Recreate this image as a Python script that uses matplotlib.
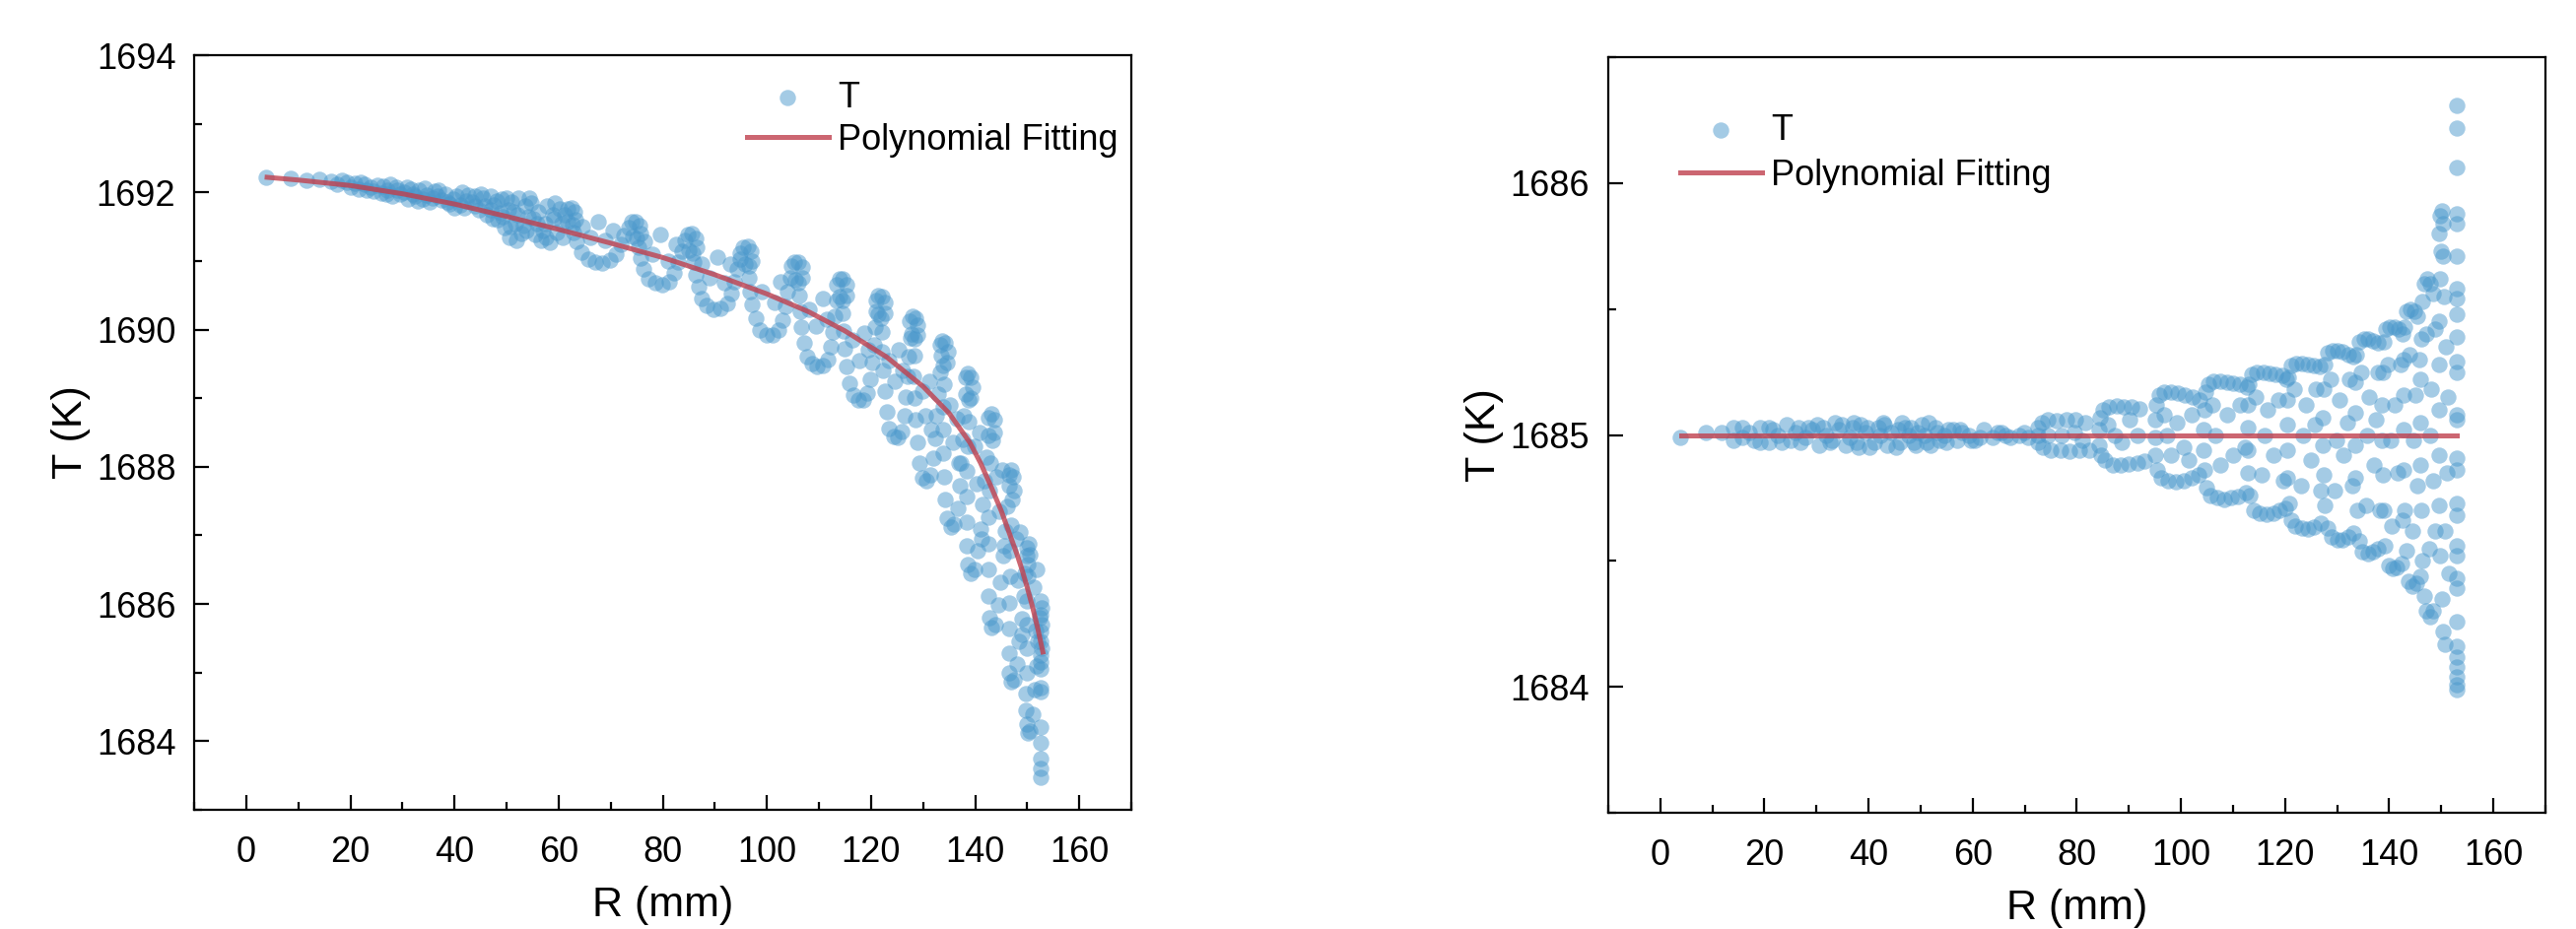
import numpy as np
import matplotlib.pyplot as plt
from matplotlib.ticker import MultipleLocator

plt.rcParams['font.family'] = ['Liberation Sans', 'DejaVu Sans']

# ---- left panel: T vs R (R mm, T K) ----
band_l = [
    (3.8, 1692.22), (8.6, 1692.20), (11.5, 1692.17), (14.0, 1692.19), (16.2, 1692.16),
    (17.5, 1692.12), (18.3, 1692.18), (19.4, 1692.15), (20.1, 1692.08), (20.9, 1692.13),
    (21.5, 1692.05), (22.0, 1692.15), (22.7, 1692.12), (23.2, 1692.03), (23.8, 1692.08),
    (24.5, 1692.02), (25.2, 1692.10), (25.9, 1691.99), (26.4, 1692.09), (26.9, 1691.98),
    (27.0, 1692.04), (27.7, 1692.12), (28.1, 1691.95), (28.8, 1692.08), (29.0, 1692.04),
    (29.5, 1691.97), (30.3, 1692.01), (30.9, 1692.08), (31.0, 1691.91), (31.7, 1692.05),
    (32.0, 1691.97), (32.4, 1691.94), (33.0, 1691.87), (33.2, 1692.03), (33.9, 1691.90),
    (34.2, 1692.06), (34.6, 1691.96), (35.3, 1691.86), (35.8, 1691.92), (36.1, 1692.02),
    (36.8, 1691.95), (37.0, 1692.04), (37.5, 1691.89), (38.2, 1691.98), (38.6, 1691.86),
    (39.0, 1691.83), (39.7, 1691.90), (40.0, 1691.78), (40.4, 1691.94), (41.1, 1691.82),
    (41.5, 1692.00), (41.8, 1691.77), (42.2, 1691.88), (42.6, 1691.96), (43.3, 1691.86),
    (43.9, 1691.80), (44.0, 1691.95), (44.7, 1691.75), (45.0, 1691.98), (45.5, 1691.92),
    (45.8, 1691.80), (46.2, 1691.68), (46.9, 1691.75), (47.0, 1691.95), (47.3, 1691.62),
    (47.6, 1691.82), (48.0, 1691.88), (48.3, 1691.60), (48.8, 1691.70), (49.0, 1691.90),
    (49.3, 1691.65), (49.6, 1691.48), (50.0, 1691.92), (50.3, 1691.75), (50.6, 1691.35),
    (50.8, 1691.50), (51.0, 1691.86), (51.3, 1691.72), (51.6, 1691.55), (51.8, 1691.30),
    (52.0, 1691.68), (52.3, 1691.92), (52.8, 1691.40), (53.2, 1691.52), (53.5, 1691.80),
    (53.8, 1691.45), (54.1, 1691.64), (54.4, 1691.92), (54.8, 1691.85), (55.0, 1691.62),
    (55.4, 1691.38), (55.8, 1691.55), (56.0, 1691.72), (56.7, 1691.30), (57.0, 1691.45),
    (57.3, 1691.55), (57.6, 1691.35), (57.8, 1691.80), (58.4, 1691.27), (58.8, 1691.68),
    (59.0, 1691.62), (59.3, 1691.85), (59.6, 1691.42), (60.2, 1691.76), (60.5, 1691.55),
    (60.8, 1691.35),
]

loops_l_mid = [
    # curl at R~62
    (61.1, 1691.68), (61.7, 1691.76), (62.4, 1691.77), (63.0, 1691.71), (63.2, 1691.60),
    (62.6, 1691.53), (61.8, 1691.57), (62.9, 1691.42), (63.4, 1691.28), (64.3, 1691.13),
    (65.6, 1691.03), (67.0, 1690.98), (68.4, 1690.97), (69.8, 1691.01), (71.0, 1691.10),
    (71.9, 1691.24), (72.6, 1691.37),
    # curl at R~74
    (73.4, 1691.48), (74.0, 1691.57), (74.8, 1691.58), (75.5, 1691.52), (75.7, 1691.40),
    (75.0, 1691.33), (74.2, 1691.36), (75.3, 1691.20), (75.7, 1691.04), (76.3, 1690.88),
    (77.2, 1690.74), (78.5, 1690.68), (79.9, 1690.66), (81.2, 1690.70), (82.2, 1690.82),
    (83.0, 1690.98), (83.6, 1691.14),
    # curl at R~85
    (84.2, 1691.30), (84.8, 1691.39), (85.6, 1691.40), (86.3, 1691.33), (86.5, 1691.20),
    (85.8, 1691.12), (85.0, 1691.15), (86.0, 1690.98), (86.3, 1690.80), (86.8, 1690.62),
    (87.5, 1690.46), (88.5, 1690.35), (89.8, 1690.30), (91.1, 1690.31), (92.3, 1690.38),
    (93.2, 1690.52), (93.8, 1690.70), (94.3, 1690.88), (94.8, 1691.03),
    # curl at R~96
    (94.9, 1691.12), (95.5, 1691.20), (96.3, 1691.21), (97.0, 1691.14), (97.2, 1691.00),
    (96.5, 1690.92), (95.7, 1690.95), (96.6, 1690.76), (96.8, 1690.56), (97.2, 1690.36),
    (97.8, 1690.16), (98.7, 1690.00), (99.9, 1689.92), (101.1, 1689.92), (102.2, 1689.99),
    (103.0, 1690.14), (103.5, 1690.34), (104.0, 1690.55), (104.5, 1690.75),
]

loops_l_out = [
    # curl at R~106
    (104.7, 1690.92), (105.3, 1690.99), (106.1, 1690.99), (106.7, 1690.91), (106.8, 1690.76),
    (106.1, 1690.68), (105.4, 1690.72), (106.2, 1690.50), (106.3, 1690.27), (106.6, 1690.04),
    (107.1, 1689.80), (107.7, 1689.60), (108.6, 1689.50), (109.6, 1689.46), (110.7, 1689.48),
    (111.6, 1689.56), (112.2, 1689.75), (112.6, 1689.97), (113.0, 1690.20), (113.3, 1690.42),
    # curl at R~114
    (113.3, 1690.66), (113.9, 1690.74), (114.6, 1690.74), (115.2, 1690.65), (115.2, 1690.50),
    (114.6, 1690.42), (113.9, 1690.48), (114.6, 1690.24), (114.7, 1689.98), (114.9, 1689.72),
    (115.3, 1689.46), (115.8, 1689.22), (116.6, 1689.04), (117.5, 1688.97), (118.5, 1688.98),
    (119.3, 1689.07), (119.8, 1689.28), (120.2, 1689.52), (120.5, 1689.78), (120.8, 1690.04),
    (121.0, 1690.26),
    # curl at R~122
    (120.9, 1690.42), (121.4, 1690.49), (122.1, 1690.48), (122.6, 1690.39), (122.6, 1690.24),
    (122.0, 1690.16), (121.4, 1690.22), (122.1, 1689.96), (122.1, 1689.68), (122.3, 1689.40),
    (122.6, 1689.10), (123.0, 1688.80), (123.5, 1688.56), (124.3, 1688.44), (125.2, 1688.43),
    (125.9, 1688.52), (126.4, 1688.74), (126.7, 1689.02), (127.0, 1689.32), (127.3, 1689.60),
    (127.5, 1689.88),
    # curl at R~128
    (127.4, 1690.12), (127.9, 1690.19), (128.5, 1690.17), (129.0, 1690.07), (128.9, 1689.92),
    (128.3, 1689.86), (127.8, 1689.93), (128.3, 1689.62), (128.2, 1689.32), (128.3, 1689.00),
    (128.6, 1688.68), (128.9, 1688.36), (129.3, 1688.06), (129.9, 1687.84), (130.7, 1687.80),
    (131.4, 1687.88), (131.9, 1688.12), (132.3, 1688.42), (132.6, 1688.74), (132.9, 1689.06),
    (133.2, 1689.38), (133.4, 1689.62),
    # curl at R~134
    (133.2, 1689.78), (133.7, 1689.84), (134.3, 1689.80), (134.7, 1689.68), (134.5, 1689.52),
    (133.9, 1689.48), (134.0, 1689.20), (133.8, 1688.88), (133.8, 1688.54), (133.9, 1688.20),
    (134.1, 1687.86), (134.3, 1687.52), (134.6, 1687.25), (135.3, 1687.12), (136.0, 1687.16),
    (136.6, 1687.40), (137.0, 1687.72), (137.3, 1688.06), (137.6, 1688.40), (137.9, 1688.74),
    (138.2, 1689.06),
    # curl at R~139
    (138.1, 1689.30), (138.6, 1689.36), (139.2, 1689.30), (139.5, 1689.16), (139.2, 1689.00),
    (138.7, 1688.98), (138.7, 1688.66), (138.5, 1688.30), (138.4, 1687.94), (138.3, 1687.56),
    (138.3, 1687.20), (138.4, 1686.85), (138.6, 1686.58), (139.2, 1686.44), (139.9, 1686.50),
    (140.5, 1686.78), (141.0, 1687.10), (141.4, 1687.45), (141.8, 1687.80), (142.2, 1688.14),
    (142.6, 1688.46),
    # curl at R~143
    (142.6, 1688.72), (143.1, 1688.78), (143.6, 1688.68), (143.7, 1688.50), (143.3, 1688.38),
    (143.0, 1688.05), (142.8, 1687.66), (142.6, 1687.27), (142.5, 1686.88), (142.5, 1686.50),
    (142.6, 1686.12), (142.8, 1685.80), (143.2, 1685.65), (143.9, 1685.70), (144.5, 1685.98),
    (144.9, 1686.32), (145.3, 1686.70), (145.7, 1687.06), (146.1, 1687.42), (146.5, 1687.72),
    # curl at R~147
    (146.5, 1687.88), (146.9, 1687.95), (147.3, 1687.85), (147.4, 1687.65), (147.0, 1687.52),
    (146.9, 1687.15), (146.8, 1686.78), (146.7, 1686.40), (146.6, 1686.02), (146.6, 1685.64),
    (146.6, 1685.28), (146.6, 1685.00), (146.9, 1684.86), (147.4, 1684.90), (148.0, 1685.12),
    (148.5, 1685.45), (148.9, 1685.78), (149.3, 1686.12), (149.6, 1686.45), (149.9, 1686.70),
    # curl at R~150
    (150.0, 1686.82), (150.3, 1686.88), (150.5, 1686.72), (150.2, 1686.58), (150.1, 1686.40),
    (150.0, 1686.05), (150.0, 1685.70), (149.9, 1685.35), (149.9, 1685.00), (149.8, 1684.70),
    (149.8, 1684.45), (149.9, 1684.25), (150.1, 1684.12), (150.5, 1684.15), (151.0, 1684.40),
    (151.4, 1684.75), (151.8, 1685.10), (152.1, 1685.45), (152.4, 1685.80),
]

inner_l = [
    (64.5, 1691.50), (66.0, 1691.35), (67.5, 1691.58), (69.0, 1691.30), (70.5, 1691.45),
    (76.5, 1691.28), (78.0, 1691.10), (79.5, 1691.38), (81.0, 1691.00), (82.5, 1691.25),
    (87.5, 1690.95), (89.0, 1690.75), (90.5, 1691.05), (91.8, 1690.68), (93.0, 1690.95),
    (99.0, 1690.55), (101.5, 1690.40), (102.6, 1690.70), (108.0, 1690.30), (109.5, 1690.05),
    (110.8, 1690.45), (111.5, 1690.15), (116.5, 1689.85), (117.8, 1689.55), (118.6, 1689.95),
    (119.5, 1689.70), (123.5, 1689.55), (124.5, 1689.25), (125.3, 1689.70), (126.0, 1689.40),
    (129.8, 1689.10), (130.5, 1688.75), (131.2, 1689.25), (131.6, 1688.55), (135.2, 1688.90),
    (135.8, 1688.35), (136.4, 1688.70), (136.8, 1688.05), (139.8, 1688.30), (140.3, 1687.75),
    (140.8, 1688.50), (141.3, 1686.95), (144.0, 1687.85), (144.6, 1687.35), (145.2, 1687.95),
    (145.5, 1686.85), (147.8, 1686.95), (148.2, 1686.35), (148.6, 1687.05), (149.0, 1685.55),
    (151.2, 1686.25), (151.6, 1685.62), (151.9, 1686.50),
]

edge_l = [
    (152.6, 1686.05), (152.7, 1685.95), (152.6, 1685.85), (152.7, 1685.70), (152.6, 1685.60),
    (152.6, 1685.45), (152.7, 1685.35), (152.6, 1685.25), (152.6, 1685.15), (152.6, 1685.05),
    (152.6, 1684.78), (152.6, 1684.72), (152.6, 1684.20), (152.6, 1683.97), (152.6, 1683.75),
    (152.6, 1683.60), (152.6, 1683.47),
]

fit_r_left = [4, 10, 20, 30, 40, 50, 60, 70, 80, 90, 100, 108, 115, 123, 130, 135, 139,
              141, 143, 145, 146, 147, 148, 149, 150, 151, 152, 153]
fit_t_left = [1692.22, 1692.18, 1692.10, 1691.98, 1691.83, 1691.65, 1691.46, 1691.26,
              1691.05, 1690.80, 1690.52, 1690.26, 1689.98, 1689.60, 1689.17, 1688.78,
              1688.35, 1688.06, 1687.72, 1687.36, 1687.15, 1686.94, 1686.73, 1686.50,
              1686.24, 1685.96, 1685.65, 1685.30]

# ---- right panel ----
band_r = [
    (3.9, 1684.99), (8.7, 1685.01), (11.8, 1685.01), (14.1, 1685.03), (14.1, 1684.98),
    (15.8, 1685.03), (15.8, 1684.99), (17.0, 1685.01), (18.0, 1684.98), (19.1, 1685.03),
    (19.1, 1684.97), (20.8, 1685.03), (20.8, 1684.97), (21.7, 1685.02), (22.5, 1685.00),
    (23.4, 1684.97), (24.2, 1685.04), (25.0, 1684.98), (25.9, 1685.01), (26.5, 1685.03),
    (27.0, 1684.97), (27.8, 1684.99), (28.4, 1685.03), (29.2, 1685.02), (30.1, 1685.04),
    (30.5, 1684.96), (31.2, 1685.03), (31.8, 1685.00), (32.6, 1684.97), (33.0, 1684.98),
    (33.5, 1685.05), (34.3, 1685.02), (34.9, 1685.04), (35.6, 1684.96), (36.3, 1684.99),
    (36.9, 1685.03), (37.2, 1685.05), (37.7, 1684.97), (38.0, 1684.95), (38.5, 1685.04),
    (39.4, 1685.01), (39.8, 1685.03), (40.2, 1684.95), (41.1, 1684.97), (41.9, 1685.03),
    (42.3, 1685.00), (42.8, 1685.05), (43.1, 1685.04), (43.6, 1684.96), (44.4, 1685.01),
    (45.2, 1684.95), (45.6, 1685.02), (46.1, 1684.97), (46.5, 1685.05), (47.0, 1685.03),
    (47.8, 1685.00), (48.2, 1685.03), (48.7, 1684.97), (49.0, 1684.96), (49.5, 1685.01),
    (50.3, 1685.04), (50.8, 1685.00), (51.2, 1684.97), (51.6, 1685.05), (52.0, 1684.96),
    (52.9, 1685.03), (53.3, 1685.01), (53.7, 1684.98), (54.5, 1685.00), (55.0, 1684.97),
    (55.4, 1685.02), (56.3, 1685.02), (57.1, 1684.98), (57.6, 1685.02), (58.0, 1685.01),
    (59.2, 1685.00), (59.6, 1684.98), (60.5, 1684.98), (61.3, 1684.99), (62.2, 1685.02),
    (63.9, 1684.99), (64.7, 1685.01), (65.5, 1685.01), (66.3, 1685.00), (67.2, 1684.99),
    (68.9, 1685.00), (69.8, 1685.01), (70.6, 1684.99),
]

lobes_r_mid = [
    # lobe at R 72-83
    (72.6, 1685.03), (72.5, 1685.00), (72.6, 1684.97), (73.3, 1685.05), (74.5, 1685.06),
    (76.2, 1685.055), (78.0, 1685.06), (79.8, 1685.06), (81.7, 1685.05), (73.5, 1684.95),
    (75.0, 1684.94), (76.8, 1684.94), (78.6, 1684.935), (80.5, 1684.94), (82.3, 1684.94),
    (74.5, 1685.00), (77.0, 1685.00), (79.5, 1685.01), (81.0, 1684.98),
    # lobe at R 84-93
    (84.4, 1685.07), (84.2, 1685.02), (84.3, 1684.96), (84.6, 1684.92), (85.0, 1685.10),
    (86.2, 1685.11), (87.6, 1685.115), (89.0, 1685.11), (90.5, 1685.11), (92.0, 1685.105),
    (85.5, 1684.90), (86.9, 1684.88), (88.4, 1684.88), (90.0, 1684.885), (91.6, 1684.89),
    (93.0, 1684.895), (86.0, 1685.04), (88.6, 1684.97), (90.2, 1685.06), (91.6, 1685.00),
    (87.3, 1685.00),
    # lobe at R 95-104
    (95.3, 1685.12), (95.0, 1685.06), (95.0, 1684.99), (95.1, 1684.92), (95.4, 1684.86),
    (95.8, 1685.16), (96.8, 1685.17), (98.0, 1685.17), (99.4, 1685.165), (100.8, 1685.16),
    (102.2, 1685.15), (103.5, 1685.14), (96.2, 1684.83), (97.5, 1684.82), (99.0, 1684.815),
    (100.5, 1684.82), (102.0, 1684.83), (103.4, 1684.84), (96.8, 1685.08), (98.0, 1684.92),
    (99.3, 1685.05), (100.6, 1684.95), (102.0, 1685.08), (101.5, 1684.90), (97.3, 1685.00),
    # lobe at R 104-113
    (104.8, 1685.17), (104.5, 1685.10), (104.4, 1685.02), (104.4, 1684.94), (104.6, 1684.86),
    (104.9, 1684.79), (105.3, 1685.20), (106.3, 1685.215), (107.5, 1685.215), (108.8, 1685.21),
    (110.1, 1685.205), (111.4, 1685.20), (112.7, 1685.19), (105.6, 1684.76), (106.9, 1684.75),
    (108.3, 1684.745), (109.7, 1684.75), (111.0, 1684.755), (112.4, 1684.77), (106.0, 1685.12),
    (107.6, 1684.88), (108.8, 1685.08), (110.0, 1684.92), (111.3, 1685.12), (112.2, 1684.95),
    (106.6, 1685.00),
    # lobe at R 113-120
    (113.1, 1685.20), (112.9, 1685.12), (112.8, 1685.03), (112.8, 1684.94), (112.9, 1684.85),
    (113.2, 1684.76), (113.6, 1685.24), (114.6, 1685.25), (115.8, 1685.25), (117.0, 1685.245),
    (118.2, 1685.24), (119.4, 1685.235), (120.3, 1685.22), (113.9, 1684.70), (115.1, 1684.69),
    (116.4, 1684.685), (117.7, 1684.69), (118.9, 1684.70), (120.0, 1684.71), (114.3, 1685.15),
    (115.6, 1684.84), (116.6, 1685.10), (117.8, 1684.92), (118.8, 1685.14), (119.6, 1684.82),
    (116.0, 1685.00),
]

lobes_r_out = [
    # lobe at R 120-127
    (120.7, 1685.23), (120.5, 1685.14), (120.4, 1685.04), (120.4, 1684.94), (120.5, 1684.83),
    (120.8, 1684.73), (121.2, 1684.66), (121.2, 1685.275), (122.2, 1685.285), (123.3, 1685.285),
    (124.4, 1685.28), (125.5, 1685.275), (126.6, 1685.27), (122.0, 1684.64), (123.2, 1684.63),
    (124.4, 1684.625), (125.6, 1684.635), (126.8, 1684.65), (121.8, 1685.18), (123.0, 1684.80),
    (124.0, 1685.12), (125.0, 1684.90), (126.0, 1685.18), (126.8, 1684.78), (123.5, 1685.00),
    (125.8, 1685.04),
    # lobe at R 127-133
    (127.6, 1685.28), (127.4, 1685.18), (127.3, 1685.07), (127.3, 1684.96), (127.4, 1684.84),
    (127.7, 1684.72), (128.1, 1684.63), (128.1, 1685.325), (129.1, 1685.335), (130.1, 1685.335),
    (131.1, 1685.33), (132.1, 1685.32), (133.1, 1685.31), (128.9, 1684.595), (130.0, 1684.585),
    (131.1, 1684.585), (132.2, 1684.595), (133.2, 1684.61), (128.7, 1685.22), (129.6, 1684.78),
    (130.5, 1685.14), (131.3, 1684.92), (132.3, 1685.22), (133.0, 1684.80), (129.8, 1684.98),
    (132.0, 1685.05),
    # lobe at R 133-138
    (133.7, 1685.32), (133.5, 1685.21), (133.4, 1685.09), (133.4, 1684.96), (133.5, 1684.83),
    (133.8, 1684.70), (134.2, 1684.58), (134.2, 1685.37), (135.1, 1685.38), (136.0, 1685.38),
    (136.9, 1685.375), (137.8, 1685.365), (134.9, 1684.535), (135.9, 1684.53), (136.9, 1684.535),
    (137.9, 1684.55), (134.7, 1685.25), (135.5, 1684.72), (136.2, 1685.15), (137.0, 1684.88),
    (137.8, 1685.25), (138.2, 1684.70), (135.8, 1685.00), (137.4, 1685.06),
    # lobe at R 138-142
    (138.9, 1685.37), (138.7, 1685.25), (138.6, 1685.12), (138.6, 1684.98), (138.7, 1684.84),
    (138.9, 1684.70), (139.2, 1684.56), (139.4, 1685.42), (140.2, 1685.43), (141.0, 1685.43),
    (141.8, 1685.42), (142.5, 1685.40), (139.9, 1684.48), (140.7, 1684.47), (141.5, 1684.475),
    (142.3, 1684.49), (139.8, 1685.28), (140.5, 1684.64), (141.0, 1685.12), (141.6, 1684.85),
    (142.2, 1685.28), (142.5, 1684.66), (140.3, 1684.98),
    # lobe at R 143-146
    (142.9, 1685.43), (142.8, 1685.30), (142.7, 1685.16), (142.7, 1685.02), (142.8, 1684.86),
    (143.0, 1684.70), (143.3, 1684.54), (143.4, 1685.49), (144.1, 1685.50), (144.8, 1685.49),
    (145.5, 1685.47), (143.7, 1684.42), (144.5, 1684.40), (145.3, 1684.41), (146.0, 1684.44),
    (143.9, 1685.32), (144.4, 1684.62), (145.0, 1685.16), (145.5, 1684.80), (145.8, 1685.30),
    (144.7, 1684.98),
    # lobe at R 146-149
    (146.3, 1685.53), (146.1, 1685.38), (146.0, 1685.22), (146.0, 1685.05), (146.0, 1684.88),
    (146.1, 1684.70), (146.4, 1684.50), (146.7, 1684.36), (146.7, 1685.60), (147.3, 1685.62),
    (147.9, 1685.60), (148.5, 1685.56), (147.2, 1684.30), (147.8, 1684.28), (148.4, 1684.30),
    (147.2, 1685.40), (147.6, 1684.55), (148.0, 1685.18), (148.4, 1684.82), (148.8, 1685.42),
    (147.8, 1685.00), (148.9, 1684.62),
    # lobe at R 149-152
    (149.6, 1685.80), (149.8, 1685.87), (150.1, 1685.89), (150.4, 1685.84), (150.0, 1685.73),
    (150.4, 1685.71), (149.7, 1685.62), (149.6, 1685.45), (149.5, 1685.28), (149.5, 1685.10),
    (149.5, 1684.92), (149.6, 1684.72), (149.8, 1684.52), (150.1, 1684.35), (150.4, 1684.22),
    (150.8, 1684.17), (150.6, 1685.55), (150.9, 1685.35), (151.1, 1684.85), (150.8, 1684.62),
    (151.3, 1685.15), (151.5, 1684.45),
]

edge_r = [
    (152.9, 1686.31), (152.9, 1686.22), (152.9, 1686.06), (152.9, 1685.88), (152.9, 1685.84),
    (152.9, 1685.71), (152.9, 1685.58), (152.9, 1685.54), (152.9, 1685.48), (152.9, 1685.39),
    (152.9, 1685.29), (152.9, 1685.25), (152.9, 1685.08), (152.9, 1685.06), (152.9, 1684.91),
    (152.9, 1684.86), (152.9, 1684.73), (152.9, 1684.68), (152.9, 1684.56), (152.9, 1684.52),
    (152.9, 1684.43), (152.9, 1684.39), (152.9, 1684.26), (152.9, 1684.16), (152.9, 1684.12),
    (152.9, 1684.08), (152.9, 1684.04), (152.9, 1684.01), (152.9, 1683.99),
]

fit_r_right = [4, 40, 80, 120, 153]
fit_t_right = [1685.0, 1685.0, 1685.0, 1685.0, 1685.0]

pts_left = np.array(band_l + loops_l_mid + loops_l_out + inner_l + edge_l)
pts_right = np.array(band_r + lobes_r_mid + lobes_r_out + edge_r)

dot_color = '#4a98cc'
fit_color = '#c0404e'

fig = plt.figure(figsize=(26.14, 9.43), dpi=100)
ax1 = fig.add_axes([0.0754, 0.1283, 0.3638, 0.8123])
ax2 = fig.add_axes([0.6243, 0.1251, 0.3638, 0.8134])


def draw(ax, pts, fit_r, fit_t, ylim, major, minor, leg_anchor, spacing):
    ax.scatter(pts[:, 0], pts[:, 1], s=140, color=dot_color, alpha=0.5,
               linewidths=0, label='T', zorder=2)
    ax.plot(fit_r, fit_t, color=fit_color, alpha=0.8, lw=3.6,
            label='Polynomial Fitting', zorder=3)
    ax.set_xlim(-10, 170)
    ax.set_ylim(*ylim)
    ax.xaxis.set_major_locator(MultipleLocator(20))
    ax.xaxis.set_minor_locator(MultipleLocator(10))
    ax.yaxis.set_major_locator(MultipleLocator(major))
    ax.yaxis.set_minor_locator(MultipleLocator(minor))
    ax.tick_params(which='both', direction='in', width=1.6, labelsize=26,
                   top=False, right=False)
    ax.tick_params(which='major', length=11)
    ax.tick_params(which='minor', length=5.5)
    ax.tick_params(axis='x', pad=19)
    ax.tick_params(axis='y', pad=13.5)
    for sp in ax.spines.values():
        sp.set_linewidth(1.6)
    ax.set_xlabel('R (mm)', fontsize=31)
    ax.set_ylabel('T (K)', fontsize=31)
    ax.xaxis.set_label_coords(0.5, -0.1)
    ax.yaxis.set_label_coords(-0.111, 0.5)
    ax.legend(loc='upper left', bbox_to_anchor=leg_anchor,
              bbox_transform=fig.transFigure, frameon=False, fontsize=26,
              borderpad=0, borderaxespad=0, handlelength=2.3,
              handletextpad=0.26, labelspacing=spacing)


draw(ax1, pts_left, fit_r_left, fit_t_left, (1683, 1694), 2, 1,
     (0.2898, 0.9133), 0.22)
draw(ax2, pts_right, fit_r_right, fit_t_right, (1683.5, 1686.5), 1, 0.5,
     (0.6521, 0.8785), 0.32)

fig.savefig('out.png', dpi=100)
